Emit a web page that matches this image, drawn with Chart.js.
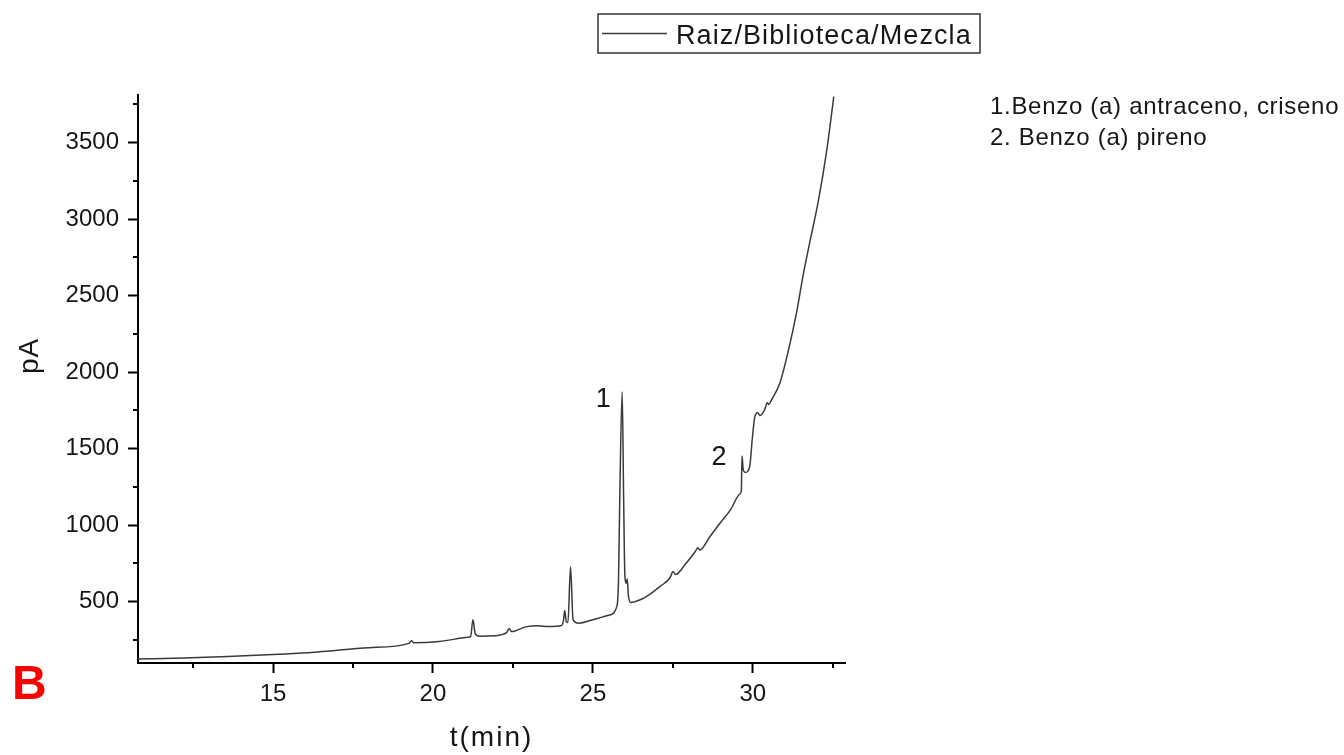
<!DOCTYPE html>
<html>
<head>
<meta charset="utf-8">
<title>Cromatograma</title>
<script src="https://cdn.jsdelivr.net/npm/chart.js@4/dist/chart.umd.min.js"></script>
<style>
  html, body { margin: 0; padding: 0; background: #fff; }
  #wrap { position: relative; width: 1344px; height: 755px; }
</style>
</head>
<body>
<div id="wrap"><canvas id="chrom"></canvas></div>
<script>
const seriesLabel = 'Raiz/Biblioteca/Mezcla';

// retention time (min) and detector signal (pA)
const timeMin = [
    10.78, 12.2, 13.6, 15.0, 16.4, 18.0, 19.25, 19.33, 19.4, 20.2,
    21.1, 21.18, 21.25, 21.32, 21.45, 21.9, 22.3, 22.38, 22.46, 22.9,
    23.3, 23.6, 24.02, 24.08, 24.12, 24.17, 24.22, 24.3, 24.38, 24.55,
    25.0, 25.5, 25.75, 25.8, 25.84, 25.915, 25.96, 26.0, 26.04, 26.07,
    26.11, 26.18, 26.5, 26.8, 27.1, 27.42, 27.5, 27.58, 27.9, 28.2,
    28.28, 28.34, 28.66, 28.97, 29.3, 29.6, 29.64, 29.66, 29.7, 29.76,
    29.9, 29.98, 30.06, 30.15, 30.22, 30.3, 30.37, 30.45, 30.5, 30.58,
    30.84, 31.1, 31.37, 31.57, 31.78, 32.04, 32.3, 32.53
];
const signalPA = [
    126, 133, 143, 155, 172, 200, 228, 246, 232, 241,
    268, 275, 383, 292, 275, 278, 298, 325, 305, 336,
    343, 338, 345, 380, 443, 368, 365, 728, 383, 360,
    383, 412, 470, 640, 1180, 1871, 1180, 665, 620, 650,
    540, 495, 515, 552, 600, 660, 698, 678, 748, 828,
    852, 838, 926, 1013, 1100, 1205, 1222, 1452, 1362, 1345,
    1382, 1560, 1708, 1734, 1716, 1730, 1756, 1800, 1788, 1817,
    1926, 2132, 2393, 2632, 2849, 3110, 3435, 3800
];

const xTicks = [15, 20, 25, 30];
const xMinorTicks = [12.5, 17.5, 22.5, 27.5, 32.5];
const yTicks = [500, 1000, 1500, 2000, 2500, 3000, 3500];
const yMinorTicks = [250, 750, 1250, 1750, 2250, 2750, 3250, 3750];

const peakNames = ['1', '2'];
const compoundNotes = ['1.Benzo (a) antraceno, criseno', '2. Benzo (a) pireno'];
const panelLetter = 'B';

const FONT = "'Liberation Sans', Arial, sans-serif";
const INK = '#161616';

// minor ticks, axis captions, legend box, peak numbers and side notes
const decorations = {
    id: 'decorations',
    afterDraw(chart, args, opts) {
        const { ctx, chartArea: area } = chart;
        const x = chart.scales.x, y = chart.scales.y;
        ctx.save();

        ctx.strokeStyle = '#000';
        ctx.lineWidth = 2;
        ctx.beginPath();
        xMinorTicks.forEach(v => {
            const px = Math.round(x.getPixelForValue(v));
            ctx.moveTo(px, area.bottom);
            ctx.lineTo(px, area.bottom + 5);
        });
        yMinorTicks.forEach(v => {
            const py = Math.round(y.getPixelForValue(v));
            ctx.moveTo(area.left - 5, py);
            ctx.lineTo(area.left, py);
        });
        ctx.stroke();

        ctx.fillStyle = INK;
        ctx.textBaseline = 'middle';
        ctx.textAlign = 'center';

        // axis captions
        ctx.font = `28px ${FONT}`;
        ctx.letterSpacing = '2px';
        ctx.fillText('t(min)', (area.left + area.right) / 2, 738);
        ctx.save();
        ctx.translate(30, 356);
        ctx.rotate(-Math.PI / 2);
        ctx.letterSpacing = '1px';
        ctx.fillText('pA', 0, 0);
        ctx.restore();

        // peak numbers
        ctx.font = `27px ${FONT}`;
        ctx.letterSpacing = '0px';
        opts.peaks.forEach((p, i) => {
            ctx.fillText(peakNames[i], x.getPixelForValue(p[0]), y.getPixelForValue(p[1]));
        });

        // legend
        const lg = opts.legend;
        ctx.strokeStyle = '#333';
        ctx.lineWidth = 1.5;
        ctx.strokeRect(lg.left, lg.top, lg.width, lg.height);
        ctx.strokeStyle = chart.data.datasets[0].borderColor;
        ctx.beginPath();
        ctx.moveTo(lg.left + 4, lg.top + lg.height / 2);
        ctx.lineTo(lg.left + 69, lg.top + lg.height / 2);
        ctx.stroke();
        ctx.textAlign = 'left';
        ctx.textBaseline = 'alphabetic';
        ctx.font = `27px ${FONT}`;
        ctx.letterSpacing = '1.1px';
        ctx.fillText(chart.data.datasets[0].label, lg.left + 78, lg.top + 30);

        // compound notes
        ctx.font = `24px ${FONT}`;
        ctx.letterSpacing = '0.7px';
        compoundNotes.forEach((t, i) => ctx.fillText(t, 990, 114 + i * 31));

        // panel letter
        ctx.fillStyle = '#ff0000';
        ctx.font = `bold 48px ${FONT}`;
        ctx.letterSpacing = '0px';
        ctx.fillText(panelLetter, 12, 699);

        ctx.restore();
    }
};

new Chart(document.getElementById('chrom'), {
    type: 'line',
    data: {
        datasets: [{
            label: seriesLabel,
            data: timeMin.map((t, i) => ({ x: t, y: signalPA[i] })),
            borderColor: '#3a3a3a',
            borderWidth: 1.5,
            pointRadius: 0,
            cubicInterpolationMode: 'monotone',
            fill: false
        }]
    },
    options: {
        responsive: true,
        maintainAspectRatio: false,
        animation: false,
        layout: { padding: { left: 0, top: 95, right: 499, bottom: 0 } },
        plugins: {
            legend: { display: false },
            tooltip: { enabled: false },
            decorations: {
                peaks: [[25.32, 1823], [28.94, 1445]],
                legend: { left: 598, top: 14, width: 382, height: 39 }
            }
        },
        scales: {
            x: {
                type: 'linear',
                min: 10.78,
                max: 32.88,
                afterBuildTicks: s => { s.ticks = xTicks.map(v => ({ value: v })); },
                afterFit: s => { s.height = 92; },
                border: { color: '#000', width: 2 },
                grid: { drawOnChartArea: false, tickLength: 10, tickColor: '#000', tickWidth: 2 },
                ticks: {
                    color: INK,
                    font: { family: FONT, size: 24 },
                    padding: 7,
                    maxRotation: 0,
                    callback: v => String(v)
                }
            },
            y: {
                type: 'linear',
                min: 100,
                max: 3810,
                afterBuildTicks: s => { s.ticks = yTicks.map(v => ({ value: v })); },
                afterFit: s => { s.width = 138; },
                border: { color: '#000', width: 2 },
                grid: { drawOnChartArea: false, tickLength: 10, tickColor: '#000', tickWidth: 2 },
                ticks: {
                    color: INK,
                    font: { family: FONT, size: 24 },
                    padding: 9,
                    callback: v => String(v)
                }
            }
        }
    },
    plugins: [decorations]
});
</script>
</body>
</html>
